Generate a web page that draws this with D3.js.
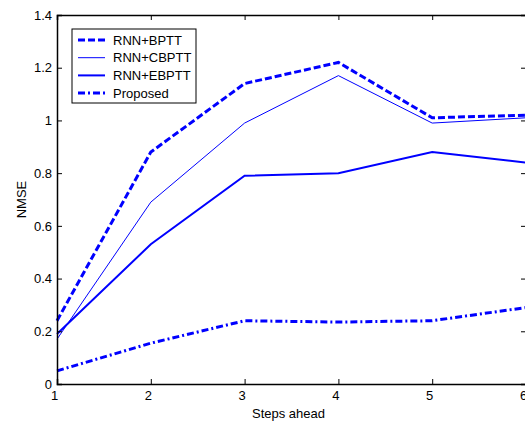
<!DOCTYPE html>
<html><head><meta charset="utf-8">
<script src="https://cdn.jsdelivr.net/npm/d3@7"></script>
<style>body{margin:0;background:#fff}svg{display:block}text{font-family:"Liberation Sans",Arial,sans-serif;}</style>
</head><body>
<script>
const steps = [1, 2, 3, 4, 5, 6];
const bptt = [0.24, 0.88, 1.14, 1.22, 1.01, 1.02];
const cbptt = [0.17, 0.69, 0.99, 1.17, 0.99, 1.01];
const ebptt = [0.19, 0.53, 0.79, 0.80, 0.88, 0.84];
const proposed = [0.05, 0.155, 0.24, 0.235, 0.24, 0.29];
const xTicks = [1, 2, 3, 4, 5, 6];
const yTicks = [0, 0.2, 0.4, 0.6, 0.8, 1, 1.2, 1.4];
const seriesNames = ["RNN+BPTT", "RNN+CBPTT", "RNN+EBPTT", "Proposed"];

const W = 525, H = 421;
const L = 57, R = 526, T = 15, B = 384;
const svg = d3.select("body").append("svg").attr("width", W).attr("height", H);
const x = d3.scaleLinear().domain([1, 6]).range([L, R]);
const y = d3.scaleLinear().domain([0, 1.4]).range([B, T]);

const styles = [
  {w: 3, dash: "7,3"},
  {w: 1, dash: null},
  {w: 2, dash: null},
  {w: 3, dash: "7,3,2,3"}
];
const allSeries = [bptt, cbptt, ebptt, proposed];

const line = d3.line().x((d, i) => x(steps[i])).y(d => y(d));
allSeries.forEach((s, k) => {
  svg.append("path").datum(s).attr("d", line)
    .attr("fill", "none").attr("stroke", "#0000ff")
    .attr("stroke-width", styles[k].w)
    .attr("stroke-dasharray", styles[k].dash)
    .attr("stroke-linejoin", "miter");
});

// axes
const fmt = d => d3.format("~g")(d);
const gx = svg.append("g").attr("transform", `translate(0,${B})`)
  .call(d3.axisBottom(x).tickValues(xTicks).tickSize(-5).tickPadding(7).tickFormat(fmt));
gx.selectAll(".tick text").attr("dx", -3);
const gxt = svg.append("g").attr("transform", `translate(0,${T})`)
  .call(d3.axisTop(x).tickValues(xTicks).tickSize(-5).tickFormat(""));
const gy = svg.append("g").attr("transform", `translate(${L},0)`)
  .call(d3.axisLeft(y).tickValues(yTicks).tickSize(-5).tickPadding(5).tickFormat(fmt));
const gyr = svg.append("g").attr("transform", `translate(${R},0)`)
  .call(d3.axisRight(y).tickValues(yTicks).tickSize(-5).tickFormat(""));
[gx, gxt, gy, gyr].forEach(g => {
  g.selectAll(".domain").attr("stroke", "#000").attr("stroke-width", 1.5);
  g.selectAll(".tick line").attr("stroke", "#000");
  g.selectAll("text").attr("font-size", 13).attr("fill", "#000")
    .style("font-family", '"Liberation Sans",Arial,sans-serif');
});

svg.append("text").attr("x", (L + R) / 2 - 3).attr("y", 418).attr("text-anchor", "middle")
  .attr("font-size", 13).text("Steps ahead");
svg.append("text").attr("transform", `translate(26,${(T + B) / 2}) rotate(-90)`)
  .attr("text-anchor", "middle").attr("font-size", 13).text("NMSE");

// legend
const lg = svg.append("g");
lg.append("rect").attr("x", 72).attr("y", 29).attr("width", 124).attr("height", 74)
  .attr("fill", "#fff").attr("stroke", "#000").attr("stroke-width", 1);
seriesNames.forEach((n, k) => {
  const yy = 40 + k * 17.7;
  lg.append("line").attr("x1", 78).attr("x2", 105).attr("y1", yy).attr("y2", yy)
    .attr("stroke", "#0000ff").attr("stroke-width", styles[k].w)
    .attr("stroke-dasharray", styles[k].dash);
  lg.append("text").attr("x", 113).attr("y", yy + 4.5).attr("font-size", 13).text(n);
});
</script>
</body></html>
